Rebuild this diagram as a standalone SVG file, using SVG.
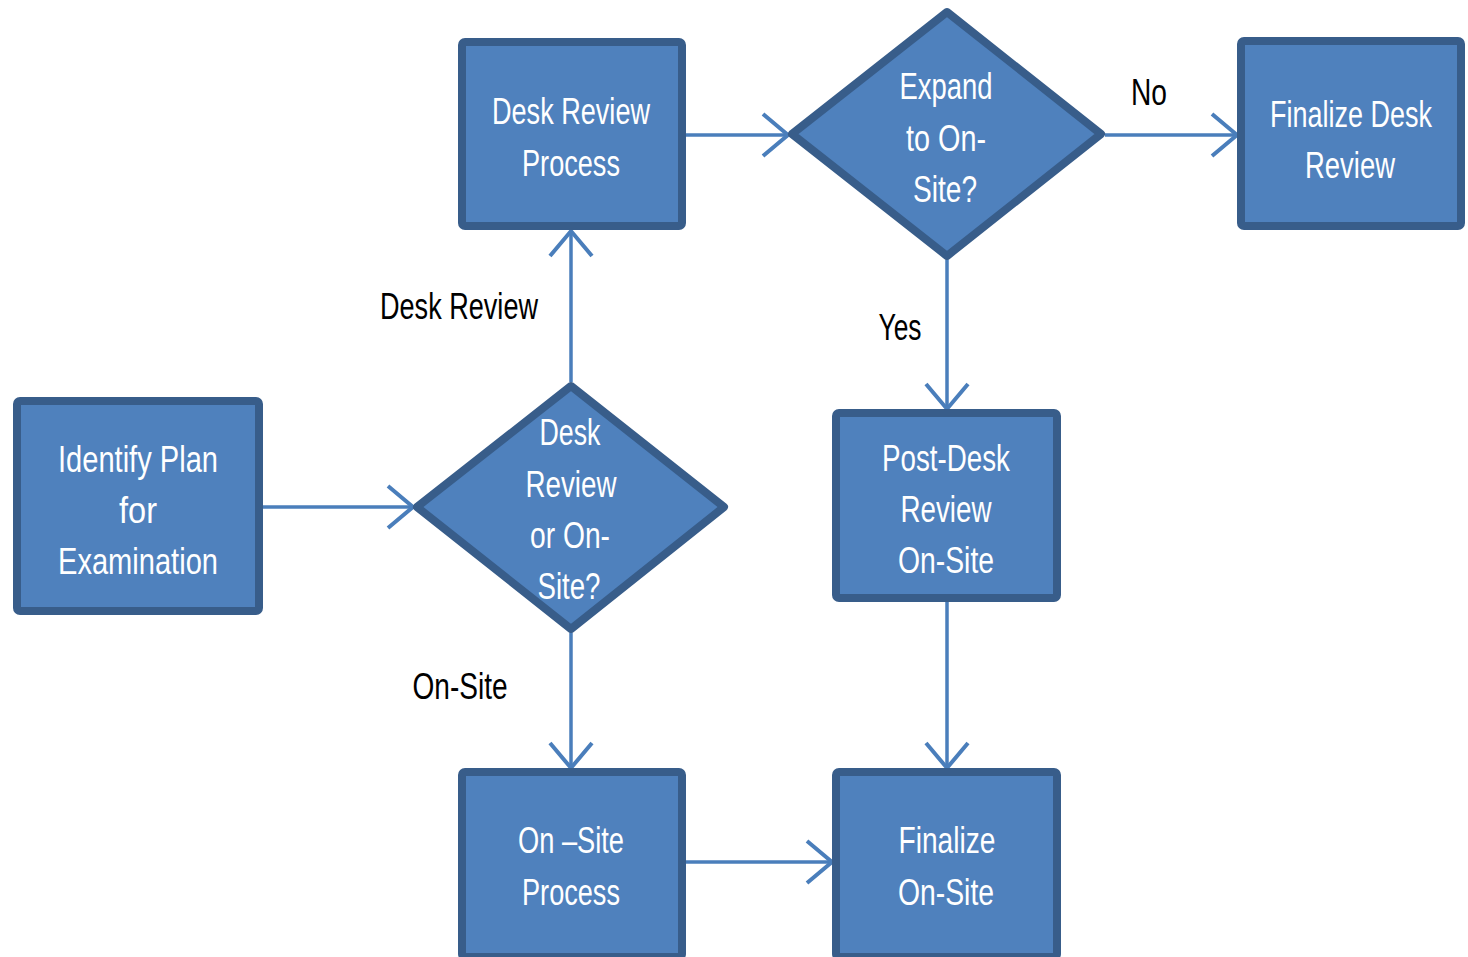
<svg xmlns="http://www.w3.org/2000/svg" width="1468" height="957" viewBox="0 0 1468 957">
<style>
.box{fill:#4F81BD;stroke:#385D8A;stroke-width:8;stroke-linejoin:round}
.t{fill:#FFFFFF;font-family:"Liberation Sans Narrow","Liberation Sans",Arial,sans-serif;font-size:37px;text-anchor:middle}
.lbl{fill:#000000;font-family:"Liberation Sans Narrow","Liberation Sans",Arial,sans-serif;font-size:37px;text-anchor:middle}
.c{stroke:#4A7EBB;stroke-width:3.5;fill:none;marker-end:url(#arr)}
</style>
<defs>
<marker id="arr" markerUnits="userSpaceOnUse" markerWidth="34" markerHeight="50" refX="28" refY="24" orient="auto">
<path d="M3,3 L28,24 L3,45" fill="none" stroke="#4A7EBB" stroke-width="4"/>
</marker>
</defs>
<rect width="1468" height="957" fill="#FFFFFF"/>
<g id="connectors">
<line class="c" x1="263" y1="507" x2="413" y2="507"/>
<line class="c" x1="571" y1="382" x2="571" y2="231"/>
<line class="c" x1="686" y1="135" x2="788" y2="135"/>
<line class="c" x1="1105" y1="135" x2="1237" y2="135"/>
<line class="c" x1="947" y1="260" x2="947" y2="409"/>
<line class="c" x1="571" y1="633" x2="571" y2="768"/>
<line class="c" x1="947" y1="602" x2="947" y2="768"/>
<line class="c" x1="686" y1="862" x2="832" y2="862"/>
<text class="lbl" x="459" y="319" textLength="158" lengthAdjust="spacingAndGlyphs">Desk Review</text>
<text class="lbl" x="1149" y="105" textLength="36" lengthAdjust="spacingAndGlyphs">No</text>
<text class="lbl" x="900" y="340" textLength="43" lengthAdjust="spacingAndGlyphs">Yes</text>
<text class="lbl" x="460" y="699" textLength="95" lengthAdjust="spacingAndGlyphs">On-Site</text>
</g>
<g id="desk-review-process">
<rect class="box" x="462" y="42" width="220" height="184" rx="3"/>
<text class="t" x="571" y="124" textLength="158" lengthAdjust="spacingAndGlyphs">Desk Review</text>
<text class="t" x="571" y="176" textLength="98" lengthAdjust="spacingAndGlyphs">Process</text>
</g>
<g id="expand-on-site">
<polygon class="box" points="947,12 1101,134 947,256 792,134"/>
<text class="t" x="946" y="99" textLength="93" lengthAdjust="spacingAndGlyphs">Expand</text>
<text class="t" x="946" y="151" textLength="80" lengthAdjust="spacingAndGlyphs">to On-</text>
<text class="t" x="945" y="202" textLength="64" lengthAdjust="spacingAndGlyphs">Site?</text>
</g>
<g id="finalize-desk-review">
<rect class="box" x="1241" y="41" width="220" height="185" rx="3"/>
<text class="t" x="1351" y="127" font-size="32" textLength="162" lengthAdjust="spacingAndGlyphs">Finalize Desk</text>
<text class="t" x="1350" y="178" textLength="90" lengthAdjust="spacingAndGlyphs">Review</text>
</g>
<g id="identify-plan">
<rect class="box" x="17" y="401" width="242" height="210" rx="3"/>
<text class="t" x="138" y="472" textLength="160" lengthAdjust="spacingAndGlyphs">Identify Plan</text>
<text class="t" x="138" y="523" textLength="38" lengthAdjust="spacingAndGlyphs">for</text>
<text class="t" x="138" y="574" textLength="160" lengthAdjust="spacingAndGlyphs">Examination</text>
</g>
<g id="desk-or-on-site">
<polygon class="box" points="571,386 724,507 571,629 417,507"/>
<text class="t" x="570" y="445" textLength="61" lengthAdjust="spacingAndGlyphs">Desk</text>
<text class="t" x="571" y="497" textLength="91" lengthAdjust="spacingAndGlyphs">Review</text>
<text class="t" x="570" y="548" textLength="80" lengthAdjust="spacingAndGlyphs">or On-</text>
<text class="t" x="569" y="599" textLength="63" lengthAdjust="spacingAndGlyphs">Site?</text>
</g>
<g id="post-desk-review">
<rect class="box" x="836" y="413" width="221" height="185" rx="3"/>
<text class="t" x="946" y="471" textLength="128" lengthAdjust="spacingAndGlyphs">Post-Desk</text>
<text class="t" x="946" y="522" textLength="91" lengthAdjust="spacingAndGlyphs">Review</text>
<text class="t" x="946" y="573" textLength="96" lengthAdjust="spacingAndGlyphs">On-Site</text>
</g>
<g id="on-site-process">
<rect class="box" x="462" y="772" width="220" height="185" rx="3"/>
<text class="t" x="571" y="853" textLength="106" lengthAdjust="spacingAndGlyphs">On –Site</text>
<text class="t" x="571" y="905" textLength="98" lengthAdjust="spacingAndGlyphs">Process</text>
</g>
<g id="finalize-on-site">
<rect class="box" x="836" y="772" width="221" height="185" rx="3"/>
<text class="t" x="947" y="853" textLength="97" lengthAdjust="spacingAndGlyphs">Finalize</text>
<text class="t" x="946" y="905" textLength="96" lengthAdjust="spacingAndGlyphs">On-Site</text>
</g>
</svg>
